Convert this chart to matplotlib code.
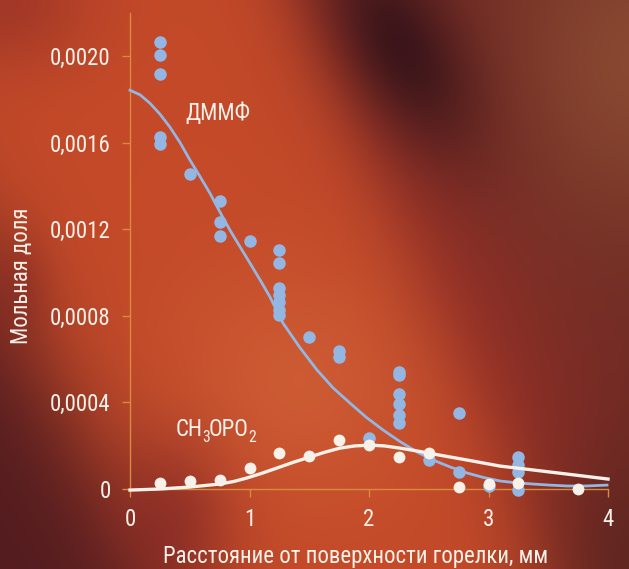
import numpy as np
import matplotlib
matplotlib.use("Agg")
import matplotlib.pyplot as plt
from matplotlib import font_manager as fm

# ---------------- data ----------------
dmmf_x = [0.25, 0.25, 0.25, 0.25, 0.25, 0.5, 0.75, 0.75, 0.75, 1.0,
          1.25, 1.25, 1.25, 1.25, 1.25, 1.25, 1.25, 1.5, 1.75, 1.75,
          2.0, 2.25, 2.25, 2.25, 2.25, 2.25, 2.25, 2.5, 2.75, 2.75,
          3.0, 3.25, 3.25, 3.25, 3.25]
dmmf_y = [0.002065, 0.002005, 0.001917, 0.001626, 0.001594, 0.001455,
          0.00133, 0.001233, 0.001169, 0.001146,
          0.001104, 0.001044, 0.000928, 0.000896, 0.000864, 0.000827, 0.000804,
          0.000702, 0.000637, 0.000610,
          0.000236, 0.000540, 0.000527, 0.000439, 0.000393, 0.000342, 0.000305,
          0.000134, 0.000351, 0.0000785,
          0.000014, 0.000148, 0.000111, 0.0000785, -0.000005]

ch3_x = [0.25, 0.5, 0.75, 1.0, 1.25, 1.5, 1.75, 2.0, 2.25, 2.5, 2.75, 3.0, 3.25, 3.75]
ch3_y = [0.000028, 0.000037, 0.000042, 0.000097, 0.000166, 0.000152, 0.000226,
         0.000203, 0.000148, 0.000166, 0.000009, 0.000023, 0.000028, 0.0]

dmmf_fit_x = [0.0, 0.084, 0.167, 0.25, 0.335, 0.42, 0.502, 0.585, 0.669, 0.75,
              0.837, 0.92, 1.004, 1.09, 1.172, 1.28, 1.42,
              1.565, 1.70, 1.841, 1.98, 2.117, 2.26, 2.402, 2.54, 2.678, 2.82,
              2.96, 3.096, 3.23, 3.372, 3.51, 3.657, 3.82, 3.992]
dmmf_fit_y = [0.001843, 0.001822, 0.001783, 0.001733, 0.001672, 0.001600,
              0.001520, 0.001445, 0.001367, 0.001283, 0.001196, 0.001120,
              0.001044, 0.000965, 0.000887, 0.000767, 0.000655, 0.000550,
              0.000467, 0.000397, 0.000330, 0.000273, 0.000219, 0.000171,
              0.000133, 0.000102, 0.000074, 0.000053, 0.000037, 0.000029,
              0.000023, 0.000018, 0.000014, 0.000014, 0.000018]

ch3_fit_x = [0.0, 0.25, 0.50, 0.753, 0.87, 0.979, 1.10, 1.23, 1.37, 1.506,
             1.63, 1.757, 1.88, 2.008, 2.13, 2.259, 2.40,
             2.536, 2.82, 3.096, 3.372, 3.657, 4.0]
ch3_fit_y = [-0.000005, 0.0, 0.000009, 0.000023, 0.000035, 0.000051, 0.000072,
             0.000097, 0.000124, 0.000148, 0.000170, 0.000189, 0.000199,
             0.000203, 0.000199, 0.000189, 0.000176, 0.000162, 0.000134,
             0.000106, 0.000088, 0.000069, 0.000046]

x_ticks = [0, 1, 2, 3, 4]
x_tick_labels = ["0", "1", "2", "3", "4"]
y_ticks = [0, 0.0004, 0.0008, 0.0012, 0.0016, 0.0020]
y_tick_labels = ["0", "0,0004", "0,0008", "0,0012", "0,0016", "0,0020"]

x_label = "Расстояние от поверхности горелки, мм"
y_label = "Мольная доля"
label_dmmf = "ДММФ"
label_ch3_parts = [("CH", False), ("3", True), ("OPO", False), ("2", True)]

# ---------------- fonts ----------------
avail = {f.name for f in fm.fontManager.ttflist}
fam = None
for cand in ["Roboto Condensed", "Liberation Sans Narrow", "DejaVu Sans"]:
    if cand in avail:
        fam = cand
        break
plt.rcParams['font.family'] = [fam, 'DejaVu Sans']

W, H = 629, 569
fig = plt.figure(figsize=(W / 100, H / 100), dpi=100)

# ---------------- background ----------------
yy, xx = np.mgrid[0:H, 0:W].astype(float)


def sig(v):
    return 1.0 / (1.0 + np.exp(-v))


def mix(img, col, w):
    col = np.array(col)[None, None, :]
    return img * (1 - w[..., None]) + col * w[..., None]


img = np.ones((H, W, 3)) * np.array([0.77, 0.29, 0.16])[None, None, :]
img = mix(img, [0.81, 0.37, 0.21], 0.8 * np.exp(-(((xx - 300) / 130) ** 2 + ((yy - 380) / 120) ** 2)))
bx = 300 + 0.45 * yy
img = mix(img, [0.55, 0.16, 0.15], 0.85 * sig((xx - bx) / 25))
img = mix(img, [0.40, 0.17, 0.14], 0.8 * sig((xx - bx - 90) / 45))
img = mix(img, [0.55, 0.30, 0.20], 0.85 * np.exp(-(((xx - 640) / 130) ** 2 + ((yy - 60) / 160) ** 2)))
u = ((xx - 400) * 0.48 + (yy - 45) * 0.877)
v = (-(xx - 400) * 0.877 + (yy - 45) * 0.48)
img = mix(img, [0.22, 0.08, 0.10], 0.95 * np.exp(-((u / 120) ** 2 + (v / 60) ** 2)))
img = mix(img, [0.32, 0.14, 0.12], 0.7 * np.exp(-(((xx - 629) / 90) ** 2 + ((yy - 569) / 140) ** 2)))
d = (yy - 300) * 0.6 - xx
img = mix(img, [0.30, 0.10, 0.12], 0.95 * sig(d / 35))
img = mix(img, [0.50, 0.15, 0.15], 0.6 * np.exp(-(((xx - 170) / 60) ** 2 + ((yy - 520) / 80) ** 2)))
img = mix(img, [0.58, 0.19, 0.15], 0.7 * np.exp(-(((xx) / 90) ** 2 + ((yy) / 70) ** 2)))
img = mix(img, [0.50, 0.16, 0.14], 0.5 * np.exp(-(((xx - 15) / 35) ** 2 + ((yy - 290) / 60) ** 2)))
img = np.clip(img, 0, 1)

bg = fig.add_axes([0, 0, 1, 1])
bg.imshow(img, aspect='auto', interpolation='bilinear')
bg.axis('off')

# ---------------- main axes ----------------
axc = '#d98a3c'
white = '#f7f1ea'
blue = '#93b6e2'
fs = 16.5

ax = fig.add_axes([130 / W, 1 - 489 / H, 478 / W, 476 / H])
ax.patch.set_alpha(0)
ax.set_xlim(0, 4)
ax.set_ylim(0, 0.0022)

ax.plot(dmmf_fit_x, dmmf_fit_y, color=blue, lw=2.0, clip_on=False, zorder=3,
        solid_joinstyle='round')
ax.plot(dmmf_x, dmmf_y, 'o', color=blue, ms=9, mew=0, clip_on=False, zorder=4)
ax.plot(ch3_fit_x, ch3_fit_y, color=white, lw=2.4, clip_on=False, zorder=5,
        solid_joinstyle='round')
ax.plot(ch3_x, ch3_y, 'o', color=white, ms=8.5, mew=0, clip_on=False, zorder=6)

for s in ['top', 'right']:
    ax.spines[s].set_visible(False)
for s in ['left', 'bottom']:
    ax.spines[s].set_color(axc)
    ax.spines[s].set_linewidth(1.0)

ax.set_xticks(x_ticks)
ax.set_xticklabels(x_tick_labels)
ax.set_yticks(y_ticks)
ax.set_yticklabels(y_tick_labels)
ax.tick_params(axis='both', direction='out', length=6, width=1.0, color=axc,
               labelcolor=white, labelsize=fs)
ax.tick_params(axis='x', pad=8)
ax.tick_params(axis='y', pad=8)

fig.text(356 / W, 1 - 557 / H, x_label, color=white, fontsize=fs,
         ha='center', va='center')
fig.text(22 / W, 1 - 276 / H, y_label, color=white, fontsize=fs,
         ha='center', va='center', rotation=90)

fig.text(218 / W, 1 - 113 / H, label_dmmf, color=white, fontsize=fs,
         ha='center', va='center')

# CH3OPO2 with manual subscripts
renderer = fig.canvas.get_renderer()
x0 = 176
for txt, sub in label_ch3_parts:
    size = fs * 0.68 if sub else fs
    ybase = 436 + (6 if sub else 0)
    t = fig.text(x0 / W, 1 - ybase / H, txt, color=white, fontsize=size,
                 ha='left', va='baseline')
    bb = t.get_window_extent(renderer)
    x0 += bb.width - (1.5 if sub else 0.5)

fig.savefig("out.png", dpi=100)
